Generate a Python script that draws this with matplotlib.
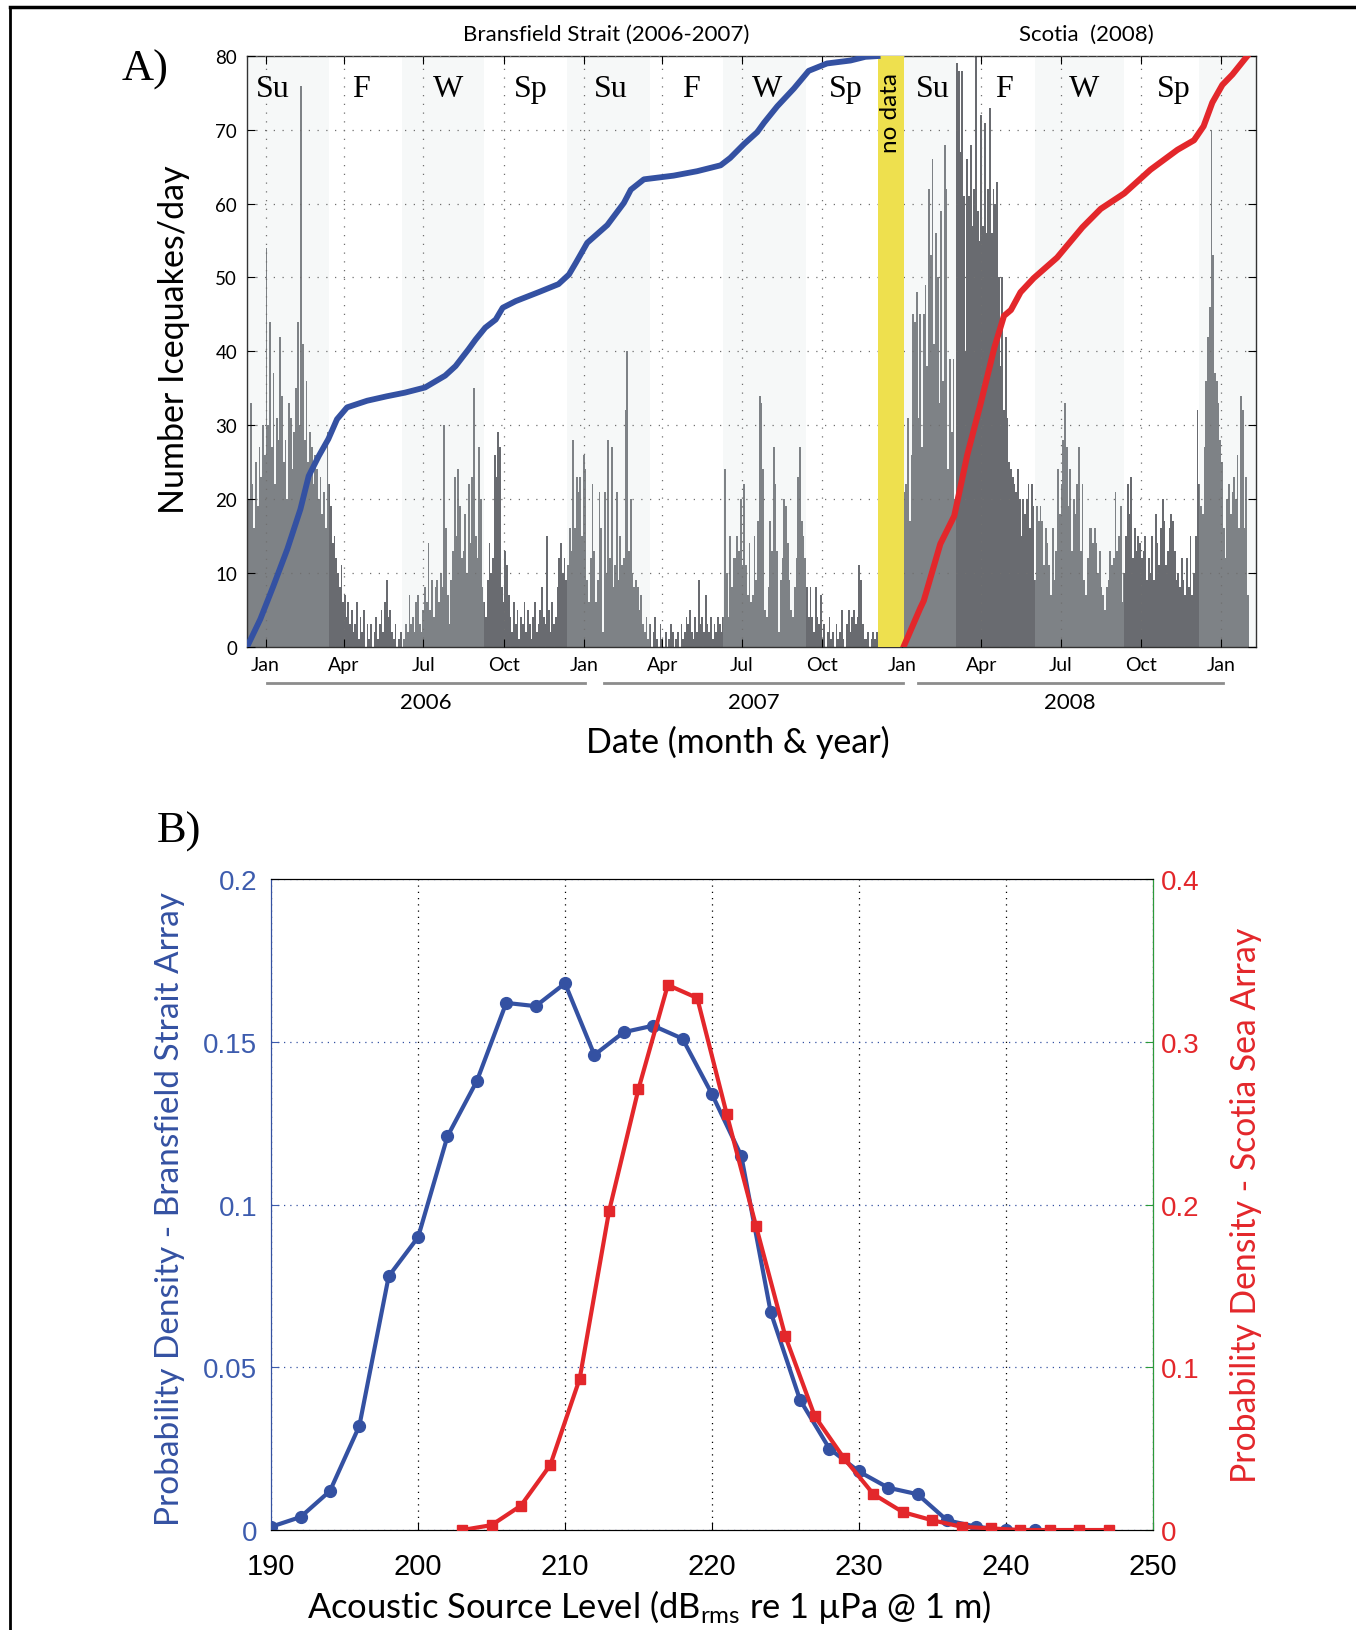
import numpy as np
import matplotlib
matplotlib.use('Agg')
import matplotlib.pyplot as plt
from matplotlib.transforms import blended_transform_factory

SANS = ['Lato', 'DejaVu Sans']
SERIF = ['Liberation Serif', 'DejaVu Serif']
TICKFONT = ['Liberation Sans', 'DejaVu Sans']
plt.rcParams['font.family'] = SANS

# ---- panel A data (days counted from 1 Jan 2006, counts binned every 2 days) ----
bin_days = 2
bransfield_start = -22
bransfield_counts = [
    12, 20, 33, 22, 16, 25, 19, 27, 23, 30,
    26, 54, 30, 44, 27, 37, 22, 31, 28, 42,
    34, 25, 28, 20, 33, 31, 24, 29, 35, 44,
    30, 76, 41, 28, 36, 25, 29, 27, 22, 26,
    24, 20, 23, 18, 21, 16, 29, 22, 19, 14,
    15, 12, 10, 8, 11, 6, 7, 4, 6, 3,
    5, 2, 3, 6, 1, 4, 2, 5, 0, 3,
    1, 3, 0, 2, 4, 1, 3, 5, 2, 6,
    9, 4, 5, 2, 1, 3, 0, 1, 2, 0,
    1, 3, 2, 7, 3, 4, 2, 6, 7, 3,
    2, 5, 8, 6, 14, 5, 9, 4, 8, 9,
    6, 10, 8, 30, 16, 7, 3, 9, 13, 23,
    15, 24, 19, 12, 13, 18, 10, 22, 14, 23,
    35, 15, 12, 27, 20, 8, 6, 4, 9, 14,
    10, 12, 26, 23, 29, 27, 8, 6, 13, 11,
    7, 4, 2, 6, 3, 5, 1, 4, 3, 6,
    2, 5, 3, 1, 4, 6, 2, 3, 5, 8,
    4, 3, 15, 5, 2, 6, 3, 4, 8, 12,
    14, 10, 12, 9, 11, 16, 13, 28, 16, 23,
    21, 23, 15, 26, 24, 9, 6, 12, 22, 13,
    6, 9, 21, 16, 2, 21, 10, 28, 12, 27,
    8, 11, 21, 9, 15, 11, 12, 32, 40, 13,
    20, 10, 8, 9, 8, 5, 7, 3, 2, 4,
    1, 3, 0, 2, 4, 1, 0, 3, 1, 0,
    2, 0, 1, 3, 2, 0, 1, 2, 0, 3,
    1, 2, 4, 3, 5, 2, 1, 4, 2, 9,
    3, 4, 2, 7, 3, 2, 4, 1, 3, 2,
    4, 3, 2, 4, 24, 10, 4, 15, 8, 12,
    12, 15, 13, 20, 11, 22, 11, 7, 14, 6,
    7, 15, 9, 17, 34, 33, 24, 5, 4, 8,
    17, 13, 27, 22, 13, 2, 9, 12, 20, 19,
    14, 9, 5, 4, 8, 12, 23, 27, 17, 15,
    12, 8, 4, 8, 4, 2, 8, 4, 3, 7,
    1, 3, 0, 2, 4, 1, 2, 0, 3, 1,
    2, 5, 1, 0, 3, 5, 2, 4, 5, 3,
    4, 11, 9, 3, 1, 1, 2, 0, 1, 2,
    1, 2,
]
scotia_start = 732
scotia_counts = [
    21, 22, 31, 17, 26, 45, 44, 48, 31, 45,
    27, 45, 49, 38, 62, 53, 66, 41, 56, 50,
    33, 59, 36, 68, 62, 24, 39, 29, 39, 20,
    79, 78, 67, 78, 61, 40, 66, 61, 68, 57,
    62, 80, 59, 55, 72, 57, 71, 56, 62, 73,
    56, 62, 60, 63, 50, 38, 50, 32, 42, 31,
    25, 24, 23, 22, 21, 24, 20, 15, 20, 18,
    20, 22, 16, 22, 19, 9, 19, 17, 19, 17,
    11, 16, 14, 11, 7, 16, 9, 13, 24, 18,
    22, 28, 33, 27, 19, 24, 13, 20, 18, 22,
    27, 13, 22, 9, 7, 12, 16, 16, 14, 16,
    14, 10, 13, 8, 7, 5, 8, 9, 13, 11,
    12, 21, 13, 15, 19, 6, 10, 15, 22, 18,
    23, 12, 16, 13, 15, 14, 12, 13, 15, 9,
    12, 10, 15, 9, 18, 14, 11, 16, 20, 17,
    11, 13, 16, 18, 17, 13, 9, 10, 8, 12,
    9, 7, 12, 8, 15, 7, 10, 15, 32, 22,
    19, 18, 27, 36, 42, 46, 70, 53, 37, 36,
    33, 28, 25, 16, 12, 20, 22, 18, 21, 23,
    20, 26, 16, 34, 32, 16, 23, 7,
]

# cumulative curves (scaled to the 0-80 axis)
blue_cum_days = [-21, -6, 9, 25, 40, 49.5, 61, 72, 82, 93.5, 116.5, 139, 160, 183,
                 206, 218, 233, 241, 252, 264, 272, 287, 313, 336, 348, 356, 369,
                 392, 411, 419, 434, 468, 495, 522, 533, 549, 564, 572, 587, 606,
                 623, 644, 671, 688, 702]
blue_cum_vals = [0, 3.7, 8.2, 13.2, 18.6, 23.1, 25.8, 28.1, 30.8, 32.4, 33.3, 33.9,
                 34.4, 35.1, 36.7, 38.0, 40.3, 41.6, 43.2, 44.3, 45.9, 46.8, 48.0,
                 49.1, 50.4, 52.0, 54.7, 57.1, 60.1, 61.9, 63.3, 63.8, 64.4, 65.2,
                 66.2, 68.1, 69.7, 71.0, 73.2, 75.6, 78.0, 79.0, 79.4, 79.9, 80.0]
red_cum_days = [732, 751, 755, 774, 790, 805, 820, 836, 847, 855, 866, 881, 908, 920,
                937, 958, 985, 1015, 1046, 1065, 1076, 1086, 1097.5, 1109, 1126]
red_cum_vals = [0, 5.2, 6.2, 13.9, 17.7, 26.0, 32.8, 40.5, 44.8, 45.6, 48.0, 49.9,
                52.7, 54.4, 56.8, 59.3, 61.4, 64.6, 67.3, 68.6, 70.5, 73.7, 76.1,
                77.5, 80.0]

month_ticks = [0, 90, 181, 273, 365, 455, 546, 638, 730, 821, 912, 1004, 1096]
month_labels = ['Jan', 'Apr', 'Jul', 'Oct'] * 3 + ['Jan']
year_labels = ['2006', '2007', '2008']
year_spans = [(2, 366), (388, 731), (748, 1098)]

shaded_seasons = [(-21.5, 72.4), (156.6, 251), (346, 441.5), (524.5, 619.5),
                  (732, 791.5), (883, 984.6), (1070.7, 1135.7)]
season_names = ['Su', 'F', 'W', 'Sp', 'Su', 'F', 'W', 'Sp', 'Su', 'F', 'W', 'Sp']
season_label_days = [8, 110, 209, 304, 396, 488, 575, 666, 765, 847, 939, 1042]
no_data_span = (702, 732)

# ---- panel B data ----
bsa_level = list(range(190, 243, 2))
bsa_pd = [0.001, 0.004, 0.012, 0.032, 0.078, 0.090, 0.121, 0.138, 0.162, 0.161,
          0.168, 0.146, 0.153, 0.155, 0.151, 0.134, 0.115, 0.067, 0.040, 0.025,
          0.018, 0.013, 0.011, 0.003, 0.001, 0.0, 0.0]
ssa_level = list(range(203, 248, 2))
ssa_pd = [0.0, 0.003, 0.015, 0.040, 0.093, 0.196, 0.271, 0.335, 0.327, 0.256,
          0.187, 0.119, 0.070, 0.044, 0.022, 0.011, 0.006, 0.002, 0.001, 0.0,
          0.0, 0.0, 0.0]

blue = '#3451a2'
red = '#e3272b'
bar_gray = '#696b70'

fig = plt.figure(figsize=(13.56, 16.31), dpi=100)

# outer frame (top and left edges visible)
fig.add_artist(plt.Line2D([0.0077, 1.0], [0.9948, 0.9948], color='k', lw=2.5))
fig.add_artist(plt.Line2D([0.0077, 0.0077], [0.0, 0.9948], color='k', lw=2))

# ================= Panel A =================
ax = fig.add_axes([0.182, 0.603, 0.744, 0.362])
b_days = bransfield_start + bin_days * np.arange(len(bransfield_counts))
s_days = scotia_start + bin_days * np.arange(len(scotia_counts))
ax.bar(b_days, bransfield_counts, width=2.0, align='edge', color=bar_gray,
       linewidth=0, zorder=1)
ax.bar(s_days, scotia_counts, width=2.0, align='edge', color=bar_gray,
       linewidth=0, zorder=1)
for a, b in shaded_seasons:
    ax.axvspan(a, b, color='#d5dfdf', alpha=0.2, lw=0, zorder=1.5)
ax.axvspan(*no_data_span, color='#eee04e', lw=0, zorder=2.6)

ax.plot(blue_cum_days, blue_cum_vals, color=blue, lw=4.2, zorder=4)
ax.plot(red_cum_days, red_cum_vals, color=red, lw=4.4, zorder=4)

ax.set_xlim(-21.5, 1135.7)
ax.set_ylim(0, 80)
ax.set_xticks(month_ticks)
ax.set_xticklabels(month_labels, fontsize=14)
ax.set_yticks(range(0, 81, 10))
ax.set_yticklabels([str(v) for v in range(0, 81, 10)], fontsize=13.5)
ax.tick_params(direction='in', top=True, right=True, length=6, width=0.8, pad=7)
ax.set_axisbelow(False)
ax.grid(True, linestyle=(0, (1, 6)), color='#707070', lw=0.9)
for s in ax.spines.values():
    s.set_linewidth(1.0)
    s.set_color('#333333')

for name, d in zip(season_names, season_label_days):
    ax.text(d, 75.6, name, ha='center', va='center', fontsize=23,
            family=SERIF, zorder=5)
ax.text(sum(no_data_span) / 2, 77.8, 'no data', rotation=90, ha='center',
        va='top', fontsize=17.5, zorder=5)

trans = blended_transform_factory(ax.transData, ax.transAxes)
for (a, b), lab in zip(year_spans, year_labels):
    ax.plot([a, b], [-0.061, -0.061], color='#8c8c8c', lw=2, transform=trans,
            clip_on=False)
    ax.text((a + b) / 2, -0.094, lab, ha='center', va='center', fontsize=16,
            transform=trans)
ax.text(391, 1.038, 'Bransfield Strait (2006-2007)', ha='center', va='center',
        fontsize=16, transform=trans)
ax.text(941, 1.038, 'Scotia  (2008)', ha='center', va='center', fontsize=16,
        transform=trans)

ax.text(-0.072, 0.521, 'Number Icequakes/day', rotation=90, ha='center',
        va='center', fontsize=24.5, transform=ax.transAxes)
ax.text(0.487, -0.160, 'Date (month & year)', ha='center', va='center',
        fontsize=24.5, transform=ax.transAxes)

fig.text(0.107, 0.957, 'A)', fontsize=32, family=SERIF, ha='center', va='center')

# ================= Panel B =================
bx = fig.add_axes([0.200, 0.0613, 0.650, 0.399])
bx.plot(bsa_level, bsa_pd, '-o', color=blue, lw=3, ms=8.5, zorder=3)
bx.set_xlim(190, 250)
bx.set_ylim(0, 0.2)
bx.set_xticks(range(190, 251, 10))
bx.set_xticklabels([str(v) for v in range(190, 251, 10)], fontsize=21,
                   family=TICKFONT)
bx.set_yticks([0, 0.05, 0.1, 0.15, 0.2])
bx.set_yticklabels(['0', '0.05', '0.1', '0.15', '0.2'], fontsize=20,
                   family=TICKFONT)
bx.tick_params(direction='in', length=6)
bx.tick_params(axis='x', pad=16)
bx.tick_params(axis='y', colors='#3d5cae', pad=10)
bx.grid(True, linestyle=(0, (1, 4)), color='k', lw=0.9)
for gl in bx.get_ygridlines():
    gl.set_color(blue)
bx.spines['left'].set_color(blue)

bx2 = bx.twinx()
bx2.plot(ssa_level, ssa_pd, '-s', color=red, lw=3, ms=7.5, zorder=3)
bx2.set_ylim(0, 0.4)
bx2.set_yticks([0, 0.1, 0.2, 0.3, 0.4])
bx2.set_yticklabels(['0', '0.1', '0.2', '0.3', '0.4'], fontsize=20,
                    family=TICKFONT)
bx2.tick_params(direction='in', length=6, pad=6, color='#2a9a3a',
                labelcolor=red)
bx2.spines['right'].set_color('#2a9a3a')
bx2.spines['left'].set_color(blue)

bx.text(-0.115, 0.495, 'Probability Density - Bransfield Strait Array',
        rotation=90, ha='center', va='center', fontsize=24, color=blue,
        transform=bx.transAxes)
bx.text(1.106, 0.5, 'Probability Density - Scotia Sea Array', rotation=90,
        ha='center', va='center', fontsize=24.3, color=red,
        transform=bx.transAxes)
bx.text(0.429, -0.117,
        'Acoustic Source Level (dB$_{\\mathregular{rms}}$ re 1 \u00b5Pa @ 1 m)',
        ha='center', va='center', fontsize=24.8, transform=bx.transAxes)

fig.text(0.132, 0.49, 'B)', fontsize=32, family=SERIF, ha='center', va='center')

fig.savefig('out.png', dpi=100)
